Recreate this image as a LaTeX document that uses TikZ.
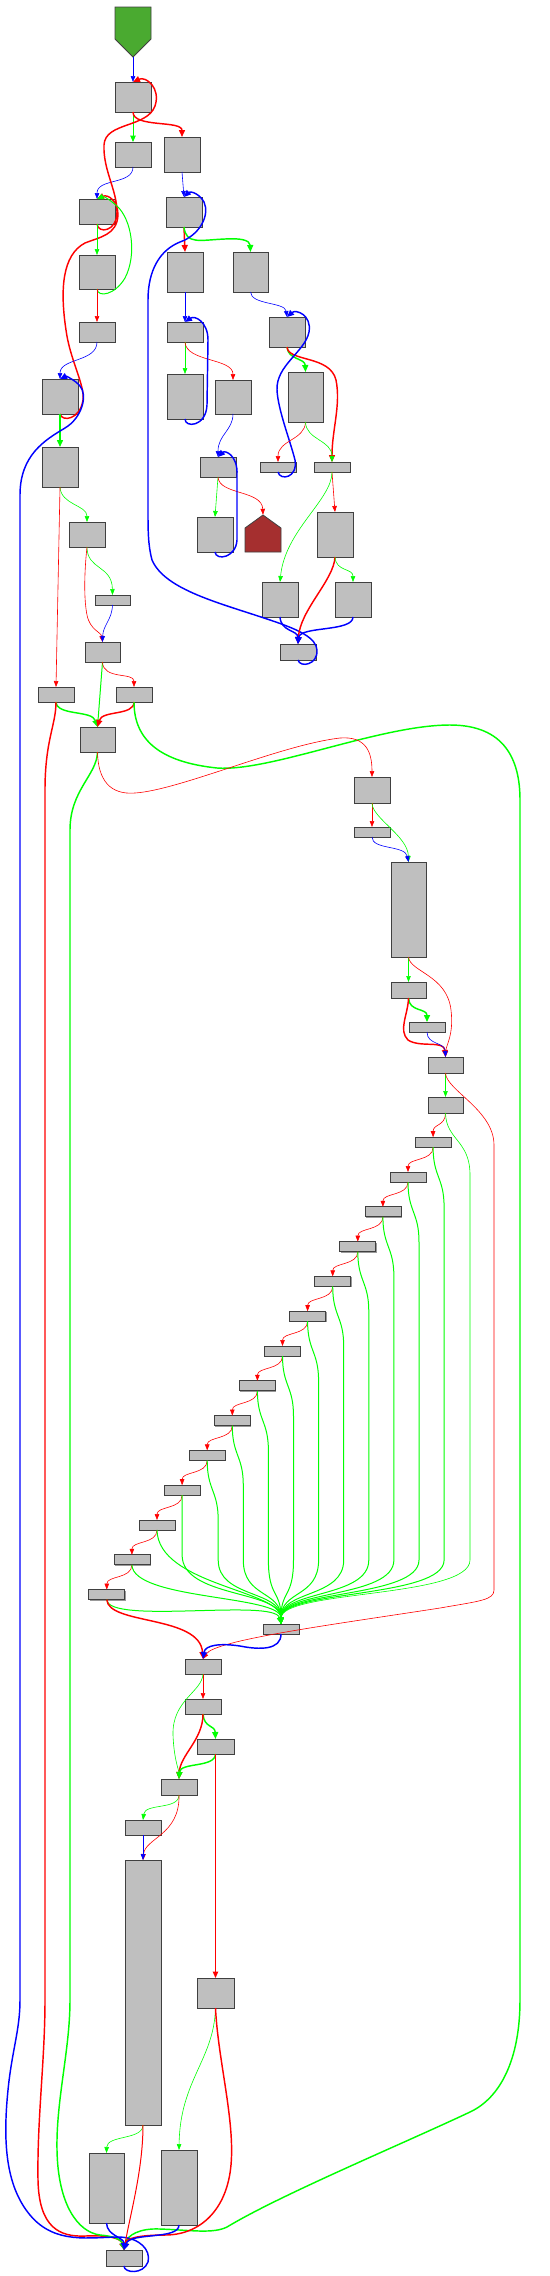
\documentclass[tikz,border=0pt]{standalone}
\usetikzlibrary{arrows.meta,shadows}
\definecolor{boxfill}{RGB}{191,191,191}
\definecolor{boxdraw}{RGB}{64,64,64}
\definecolor{startgreen}{RGB}{74,170,48}
\definecolor{endbrown}{RGB}{165,47,47}
\tikzset{
  blk/.style={draw=boxdraw, fill=boxfill, line width=0.8pt, inner sep=0pt, outer sep=0pt,
    drop shadow={shadow xshift=0.9pt, shadow yshift=-0.9pt, fill=black!40, opacity=1}},
  ln/.style={line width=0.6pt, -{Triangle[length=6pt,width=4.5pt]}},
  lm/.style={line width=1pt, -{Triangle[length=6.5pt,width=5.5pt]}},
  lk/.style={line width=1.45pt, -{Triangle[length=7pt,width=6pt]}},
  cr/.style={color=red},
  cg/.style={color=green},
  cb/.style={color=blue}
}
\newcommand\cfgbox[5]{\node[blk, minimum width={(#4-#2)*1pt}, minimum height={(#5-#3)*1pt}] (#1) at ({(#2+#4)/2},{(#3+#5)/2}) {};}
\begin{document}
\begin{tikzpicture}[x=1pt,y=-1pt]
\fill[white] (0,0) rectangle (549,2276);
\useasboundingbox (0,0) rectangle (549,2276);

% start and end shapes
\node[inner sep=0pt, minimum width=36pt, minimum height=50pt] (start) at (133,32) {};
\draw[fill=startgreen, draw=black!75, line width=0.8pt] (115,7) -- (151,7) -- (151,39) -- (133,57) -- (115,39) -- cycle;
\node[inner sep=0pt, minimum width=36pt, minimum height=37pt] (n21) at (263,533.5) {};
\draw[fill=endbrown, draw=black!75, line width=0.8pt] (245,552) -- (245,528) -- (263,515) -- (281,528) -- (281,552) -- cycle;

% blocks
\cfgbox{n1}{115}{82}{151}{112}
\cfgbox{n2}{115}{142}{151}{167}
\cfgbox{n3}{164}{137}{200}{172}
\cfgbox{n4}{79}{199}{115}{224}
\cfgbox{n5}{166}{197}{202}{227}
\cfgbox{n6}{79}{255}{115}{289}
\cfgbox{n7}{79}{322}{115}{342}
\cfgbox{n8}{167}{252}{203}{292}
\cfgbox{n9}{233}{252}{268}{292}
\cfgbox{n10}{167}{322}{203}{342}
\cfgbox{n11}{269}{317}{305}{347}
\cfgbox{n12}{42}{379}{78}{414}
\cfgbox{n13}{167}{374}{203}{419}
\cfgbox{n14}{215}{380}{251}{414}
\cfgbox{n15}{288}{372}{323}{422}
\cfgbox{n16}{42}{447}{78}{487}
\cfgbox{n17}{200}{457}{236}{477}
\cfgbox{n18}{260}{462}{296}{472}
\cfgbox{n19}{314}{462}{350}{472}
\cfgbox{n20}{197}{517}{233}{552}
\cfgbox{n22}{69}{522}{105}{547}
\cfgbox{n23}{317}{512}{353}{557}
\cfgbox{n24}{262}{582}{298}{617}
\cfgbox{n25}{335}{582}{371}{617}
\cfgbox{n26}{95}{595}{130}{605}
\cfgbox{n27}{280}{644}{316}{660}
\cfgbox{n28}{85}{642}{120}{662}
\cfgbox{n29}{38}{687}{74}{702}
\cfgbox{n30}{116}{687}{152}{702}
\cfgbox{n31}{80}{727}{115}{752}
\cfgbox{n32}{354}{777}{390}{803}
\cfgbox{n33}{354}{827}{390}{837}
\cfgbox{n34}{391}{862}{426}{957}
\cfgbox{n35}{391}{982}{426}{998}
\cfgbox{n36}{409}{1022}{445}{1032}
\cfgbox{n37}{428}{1057}{463}{1073}
\cfgbox{n38}{428}{1097}{463}{1113}
\foreach \i in {0,...,13}{
  \pgfmathsetmacro\cx{433.1-25.1*\i}
  \pgfmathsetmacro\cy{1142.2+34.8*\i}
  \node[blk, minimum width=36pt, minimum height=10pt] (c\i) at (\cx,\cy) {};
}
\cfgbox{mrg}{263}{1624}{299}{1634}
\cfgbox{n40}{185}{1659}{221}{1674}
\cfgbox{n41}{185}{1699}{221}{1714}
\cfgbox{n42}{197}{1739}{234}{1754}
\cfgbox{n43}{161}{1779}{197}{1795}
\cfgbox{n44}{125}{1820}{161}{1835}
\cfgbox{n45}{125}{1860}{161}{2125}
\cfgbox{n46}{197}{1978}{234}{2008}
\cfgbox{n47}{89}{2153}{124}{2223}
\cfgbox{n48}{161}{2150}{197}{2225}
\cfgbox{exit}{106}{2250}{142}{2266}

% ---- top / left part
\draw[ln,cb] (start.south) -- (n1.north);
\draw[lm,cg] (n1.south) -- (n2.north);
\draw[lk,cr] (n1.south) .. controls (133,128) and (182,120) .. (n3.north);
\draw[ln,cb] (n2.south) .. controls (133,185) and (97,178) .. (n4.north);
\draw[ln,cb] (n3.south) -- (n5.north);
\draw[lk,cr] (n4.south) .. controls (98,234) and (117,232) .. (117,212)
   .. controls (117,190) and (103,170) .. (104,145)
   .. controls (105,122) and (147,128) .. (155,106)
   .. controls (161,88) and (146,76) .. (n1.north);
\draw[lk,cr] (n12.south) .. controls (62,422) and (80,420) .. (83,400)
   .. controls (85,385) and (70,360) .. (66,330)
   .. controls (60,290) and (62,255) .. (85,243)
   .. controls (100,237) and (117,235) .. (118,215)
   .. controls (118,201) and (108,194) .. (n4.north);
\draw[lm,cg] (n6.south) .. controls (98,298) and (115,295) .. (125,278)
   .. controls (137,255) and (132,220) .. (117,206)
   .. controls (110,200) and (104,196) .. (n4.north);
\draw[ln,cg] (n4.south) -- (n6.north);
\draw[ln,cr] (n6.south) -- (n7.north);
\draw[ln,cb] (n7.south) .. controls (97,362) and (60,358) .. (n12.north);
\draw[lk,cg] (n12.south) -- (n16.north);
\draw[ln,cg] (n16.south) .. controls (61,505) and (87,505) .. (n22.north);
\draw[ln,cr] (n16.south) -- (n29.north);
\draw[ln,cg] (n22.south) .. controls (87,570) and (112,565) .. (n26.north);
\draw[ln,cr] (n22.south) .. controls (84,575) and (84,600) .. (87,615)
   .. controls (90,630) and (101,632) .. (n28.north);
\draw[ln,cb] (n26.south) .. controls (112,620) and (103,625) .. (n28.north);
\draw[lm,cg] (n28.south) -- (n31.north);
\draw[ln,cr] (n28.south) .. controls (103,680) and (134,672) .. (n30.north);
\draw[lk,cg] (n29.south) .. controls (57,716) and (92,710) .. (n31.north);
\draw[lk,cr] (n30.south) .. controls (134,716) and (102,710) .. (n31.north);
% long edges to exit
\draw[lk,cr] (n29.south) .. controls (56,725) and (45,740) .. (45,790) -- (45,2000)
   .. controls (45,2060) and (37,2120) .. (38,2180)
   .. controls (39,2228) and (60,2237) .. (85,2236)
   .. controls (108,2235) and (121,2238) .. (exit.north);
\draw[lk,cg] (n31.south) .. controls (97,775) and (70,790) .. (70,830) -- (70,2000)
   .. controls (70,2050) and (56,2100) .. (57,2150)
   .. controls (58,2205) and (78,2232) .. (100,2235)
   .. controls (114,2236) and (122,2240) .. (exit.north);
\draw[lk,cg] (n30.south) .. controls (134,740) and (160,762) .. (217,768)
   .. controls (270,772) and (380,725) .. (450,725)
   .. controls (505,725) and (520,760) .. (520,800) -- (520,2000)
   .. controls (520,2060) and (500,2098) .. (470,2112)
   .. controls (400,2145) and (280,2195) .. (227,2227)
   .. controls (213,2234) and (190,2230) .. (160,2229)
   .. controls (140,2228) and (127,2235) .. (exit.north);
\draw[ln,cr] (n31.south) .. controls (98,780) and (110,795) .. (135,793)
   .. controls (180,790) and (280,745) .. (340,738)
   .. controls (366,736) and (372,752) .. (n32.north);
\draw[lk,cb] (exit.south) .. controls (124,2273) and (143,2275) .. (148,2262)
   .. controls (151,2250) and (140,2238) .. (120,2237)
   .. controls (90,2237) and (55,2245) .. (30,2215)
   .. controls (5,2185) and (3,2140) .. (8,2090)
   .. controls (12,2050) and (20,2030) .. (20,2000) -- (20,495)
   .. controls (20,455) and (45,440) .. (65,428)
   .. controls (82,418) and (88,395) .. (80,386)
   .. controls (75,380) and (66,376) .. (n12.north);

% ---- top right cluster
\draw[lk,cr] (n5.south) -- (n8.north);
\draw[lk,cg] (n5.south) .. controls (186,245) and (200,240) .. (225,239)
   .. controls (240,238) and (250,240) .. (n9.north);
\draw[lk,cb] (n27.south) .. controls (300,668) and (318,665) .. (317,650)
   .. controls (316,638) and (300,630) .. (270,620)
   .. controls (220,603) and (165,590) .. (152,560)
   .. controls (148,545) and (148,530) .. (148,510) -- (148,300)
   .. controls (148,270) and (160,250) .. (180,242)
   .. controls (200,235) and (210,215) .. (204,202)
   .. controls (199,193) and (190,191) .. (n5.north);
\draw[ln,cb] (n8.south) -- (n10.north);
\draw[ln,cb] (n9.south) .. controls (251,305) and (285,302) .. (n11.north);
\draw[ln,cg] (n10.south) -- (n13.north);
\draw[ln,cr] (n10.south) .. controls (186,362) and (233,358) .. (n14.north);
\draw[lk,cb] (n13.south) .. controls (185,428) and (206,427) .. (207,405) -- (208,340)
   .. controls (208,322) and (195,315) .. (n10.north);
\draw[ln,cb] (n14.south) .. controls (233,430) and (218,435) .. (n17.north);
\draw[ln,cg] (n17.south) -- (n20.north);
\draw[ln,cr] (n17.south) .. controls (219,495) and (262,490) .. (n21.north);
\draw[lk,cb] (n20.south) .. controls (216,561) and (236,558) .. (237,540) -- (237,475)
   .. controls (238,455) and (225,450) .. (n17.north);
\draw[lk,cg] (n11.south) .. controls (288,360) and (305,358) .. (n15.north);
\draw[lk,cr] (n11.south) .. controls (288,362) and (330,355) .. (336,380)
   .. controls (341,405) and (332,430) .. (n19.north);
\draw[lk,cb] (n18.south) .. controls (280,481) and (298,478) .. (295,460)
   .. controls (290,440) and (278,410) .. (277,390)
   .. controls (276,365) and (305,352) .. (309,332)
   .. controls (312,315) and (296,309) .. (n11.north);
\draw[ln,cr] (n15.south) .. controls (305,440) and (278,440) .. (n18.north);
\draw[ln,cg] (n15.south) .. controls (306,440) and (332,440) .. (n19.north);
\draw[ln,cr] (n19.south) -- (n23.north);
\draw[ln,cg] (n19.south) .. controls (332,500) and (285,530) .. (n24.north);
\draw[lk,cr] (n23.south) .. controls (334,580) and (300,610) .. (n27.north);
\draw[ln,cg] (n23.south) .. controls (336,572) and (353,568) .. (n25.north);
\draw[lk,cb] (n24.south) .. controls (281,632) and (298,630) .. (n27.north);
\draw[lk,cb] (n25.south) .. controls (353,632) and (300,626) .. (n27.north);

% ---- right column
\draw[ln,cr] (n32.south) -- (n33.north);
\draw[ln,cg] (n32.south) .. controls (372,818) and (408,836) .. (n34.north);
\draw[ln,cb] (n33.south) .. controls (372,850) and (405,845) .. (n34.north);
\draw[ln,cg] (n34.south) -- (n35.north);
\draw[ln,cr] (n34.south) .. controls (410,972) and (447,975) .. (451,1010)
   .. controls (454,1035) and (446,1045) .. (n37.north);
\draw[lk,cg] (n35.south) .. controls (409,1012) and (427,1008) .. (n36.north);
\draw[lk,cr] (n35.south) .. controls (408,1015) and (398,1030) .. (408,1040)
   .. controls (420,1048) and (444,1040) .. (n37.north);
\draw[ln,cb] (n36.south) .. controls (427,1045) and (445,1042) .. (n37.north);
\draw[ln,cg] (n37.south) -- (n38.north);
\draw[ln,cr] (n37.south) .. controls (446,1090) and (494,1110) .. (494,1145) -- (494,1590)
   .. controls (494,1600) and (480,1601) .. (440,1608)
   .. controls (330,1625) and (215,1640) .. (n40.north);
\draw[ln,cr] (n38.south) .. controls (445.5,1126) and (433,1124) .. (c0.north);
\draw[ln,cg] (n38.south) .. controls (446,1140) and (470,1140) .. (470,1175) -- (470,1560)
   .. controls (470,1598) and (281,1590) .. (mrg.north);

% ---- staircase
\foreach \i in {0,...,12}{
  \pgfmathtruncatemacro\j{\i+1}
  \draw[ln,cr] (c\i.south) .. controls +(0,14) and +(0,-14) .. (c\j.north);
}
\foreach \i in {0,...,9}{
  \pgfmathsetmacro\X{444.1-25.1*\i}
  \pgfmathsetmacro\Y{1207.2+34.8*\i}
  \draw[lm,cg] (c\i.south) .. controls +(0,30) and (\X,\Y-30) .. (\X,\Y) -- (\X,1560)
     .. controls (\X,1598) and (281,1590) .. (mrg.north);
}
\draw[lm,cg] (c10.south) -- (182.1,1555) .. controls (182.1,1598) and (281,1590) .. (mrg.north);
\draw[lm,cg] (c11.south) .. controls (158,1585) and (281,1590) .. (mrg.north);
\draw[lm,cg] (c12.south) .. controls (133,1600) and (281,1595) .. (mrg.north);
\draw[lm,cg] (c13.south) .. controls (108,1625) and (275,1598) .. (mrg.north);
\draw[lk,cr] (c13.south) .. controls (108,1625) and (200,1615) .. (n40.north);
\draw[lk,cb] (mrg.south) .. controls (281,1650) and (260,1650) .. (240,1646)
   .. controls (220,1643) and (205,1645) .. (n40.north);

% ---- bottom
\draw[ln,cr] (n40.south) -- (n41.north);
\draw[ln,cg] (n40.south) .. controls (202,1692) and (172,1700) .. (173,1735)
   .. controls (174,1760) and (179,1770) .. (n43.north);
\draw[lk,cg] (n41.south) .. controls (204,1728) and (215,1725) .. (n42.north);
\draw[lk,cr] (n41.south) .. controls (203,1740) and (180,1755) .. (n43.north);
\draw[lk,cg] (n42.south) .. controls (215,1768) and (180,1762) .. (n43.north);
\draw[lm,cr] (n42.south) -- (n46.north);
\draw[ln,cg] (n43.south) .. controls (179,1810) and (145,1803) .. (n44.north);
\draw[ln,cr] (n43.south) .. controls (180,1835) and (145,1838) .. (n45.north);
\draw[ln,cb] (n44.south) -- (n45.north);
\draw[ln,cg] (n45.south) .. controls (143,2140) and (107,2135) .. (n47.north);
\draw[lm,cr] (n45.south) .. controls (143,2170) and (130,2215) .. (exit.north);
\draw[ln,cg] (n46.south) .. controls (214,2060) and (180,2080) .. (n48.north);
\draw[lk,cr] (n46.south) .. controls (218,2060) and (235,2120) .. (231,2165)
   .. controls (227,2210) and (200,2235) .. (165,2235)
   .. controls (140,2235) and (126,2238) .. (exit.north);
\draw[lk,cb] (n47.south) .. controls (107,2236) and (124,2237) .. (exit.north);
\draw[lk,cb] (n48.south) .. controls (179,2240) and (130,2232) .. (exit.north);
\end{tikzpicture}
\end{document}
